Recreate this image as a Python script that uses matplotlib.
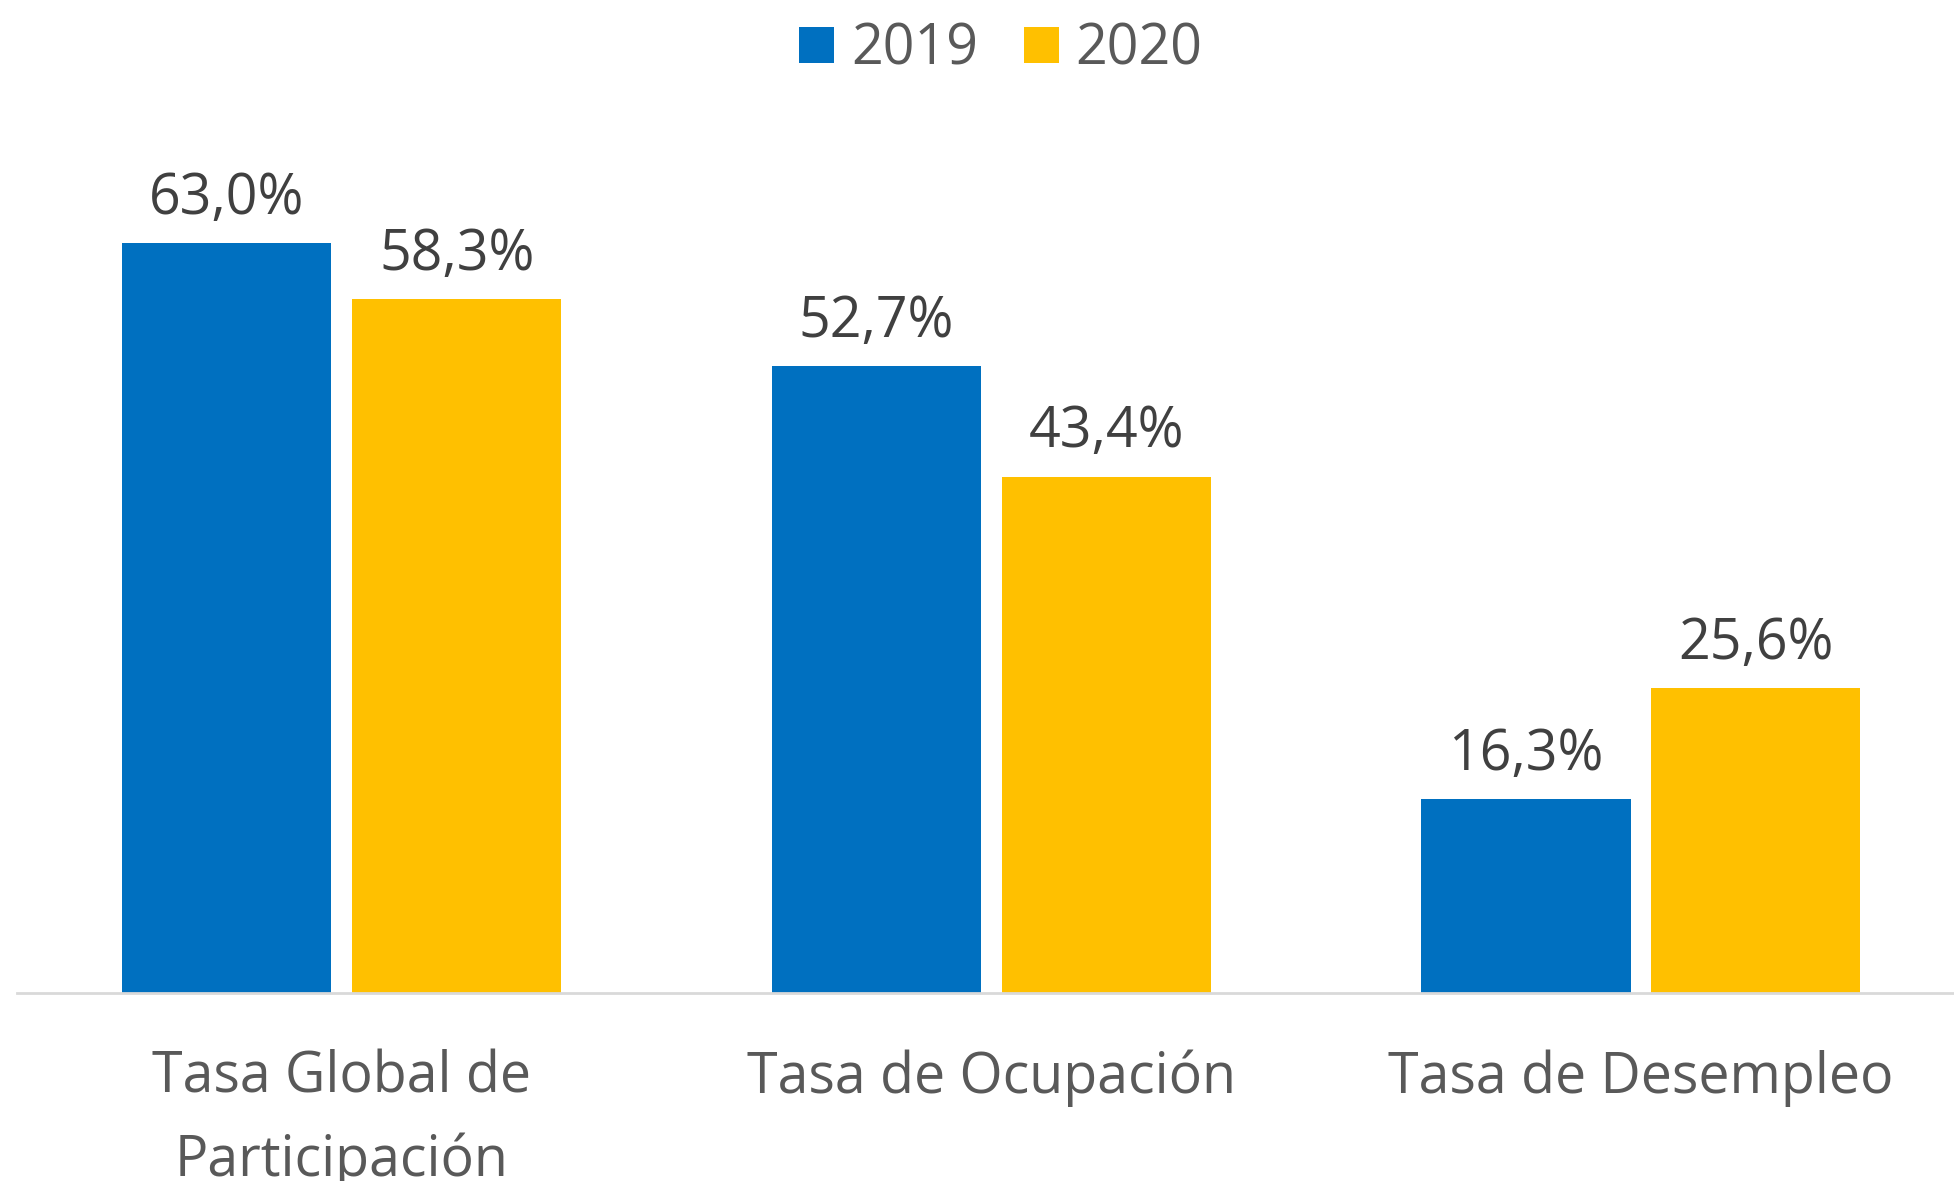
import matplotlib
matplotlib.use('Agg')
import matplotlib.pyplot as plt
import numpy as np

categories = ['Tasa Global de\nParticipación', 'Tasa de Ocupación', 'Tasa de Desempleo']
years = ['2019', '2020']
v2019 = [63.0, 52.7, 16.3]
v2020 = [58.3, 43.4, 25.6]
colors = ['#0070C0', '#FFC000']

plt.rcParams['font.family'] = ['Open Sans', 'DejaVu Sans']

fig = plt.figure(figsize=(19.54, 11.81), dpi=100)
ax = fig.add_axes([17/1954, 188/1181, 1 - 17/1954, (993 - 160)/1181])

x = np.arange(len(categories))
w = 0.322
off = 0.177
b1 = ax.bar(x - off, v2019, w, color=colors[0], label=years[0])
b2 = ax.bar(x + off, v2020, w, color=colors[1], label=years[1])

for bars, vals in [(b1, v2019), (b2, v2020)]:
    for b, v in zip(bars, vals):
        ax.annotate(('%.1f%%' % v).replace('.', ','),
                    (b.get_x() + b.get_width()/2, v),
                    xytext=(0, 21), textcoords='offset points',
                    ha='center', va='baseline', fontsize=40, color='#404040')

ax.set_xlim(-0.5, 2.482)
ax.set_ylim(0, 70)
ax.set_xticks(x)
ax.set_xticklabels(categories, fontsize=40, color='#595959', linespacing=1.58)
ax.tick_params(axis='x', length=0, pad=41)
ax.set_yticks([])
for s in ['top', 'right', 'left']:
    ax.spines[s].set_visible(False)
ax.spines['bottom'].set_color('#D9D9D9')
ax.spines['bottom'].set_linewidth(2)

fig.legend(loc='center', bbox_to_anchor=(1001/1954, 1 - 50/1181), ncol=2, frameon=False,
           fontsize=40, labelcolor='#595959', handlelength=0.63, handleheight=0.63,
           handletextpad=0.3, columnspacing=0.83)

fig.savefig('out.png', dpi=100)
